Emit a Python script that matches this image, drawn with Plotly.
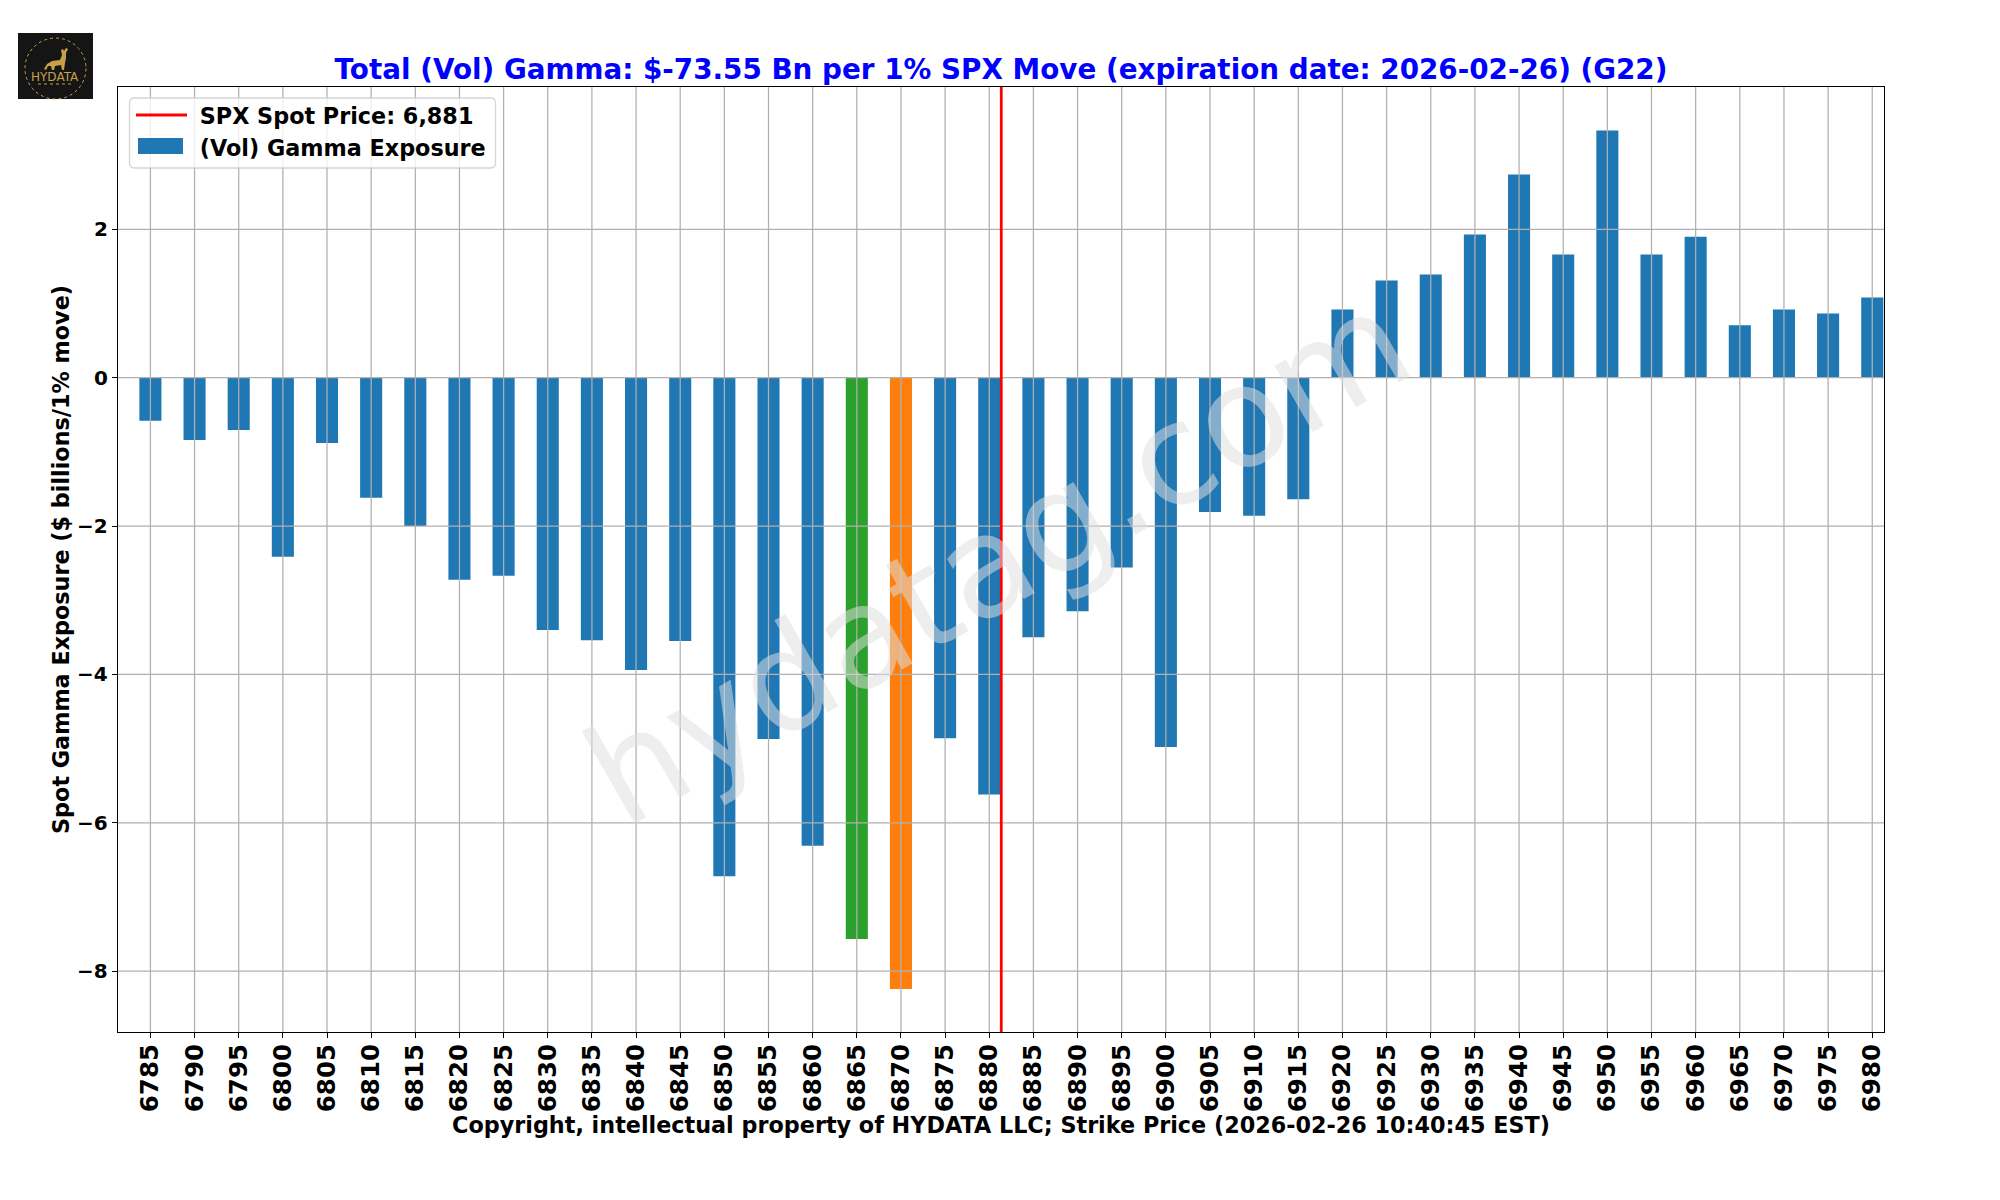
import plotly.graph_objs as go

strikes = [6785, 6790, 6795, 6800, 6805, 6810, 6815, 6820, 6825, 6830,
           6835, 6840, 6845, 6850, 6855, 6860, 6865, 6870, 6875, 6880,
           6885, 6890, 6895, 6900, 6905, 6910, 6915, 6920, 6925, 6930,
           6935, 6940, 6945, 6950, 6955, 6960, 6965, 6970, 6975, 6980]
gamma = [-0.58, -0.84, -0.705, -2.415, -0.88, -1.62, -2.0, -2.725, -2.67, -3.4,
         -3.54, -3.94, -3.55, -6.72, -4.87, -6.31, -7.565, -8.24, -4.86, -5.62,
         -3.5, -3.15, -2.56, -4.98, -1.81, -1.86, -1.64, 0.92, 1.31, 1.39,
         1.93, 2.74, 1.66, 3.33, 1.66, 1.9, 0.705, 0.92, 0.866, 1.08]
y_ticks = [-8, -6, -4, -2, 0, 2]
spot_x = 6881.36

BLUE = '#1f77b4'
GREEN = '#2ca02c'
ORANGE = '#ff7f0e'
GOLD = '#c9a04a'
FONT = 'DejaVu Sans'

x_range = [6781.33, 6981.33]
y_range = [-8.82, 3.918]

# plot box in pixels, matches the 2000x1200 page
L, R, T, B = 118, 1884, 87, 1032


def px(x):
    return (x - L) / (R - L)


def py(y):
    return (B - y) / (B - T)


# highlight min gamma strike and the next one
bar_colors = [GREEN if s == 6865 else ORANGE if s == 6870 else BLUE for s in strikes]

# grid goes on top of the bars in the original, so it is a trace here
grid_x, grid_y = [], []
for s in strikes:
    grid_x += [s, s, None]
    grid_y += [y_range[0], y_range[1], None]
for t in y_ticks:
    grid_x += [x_range[0], x_range[1], None]
    grid_y += [t, t, None]

bars = go.Bar(x=strikes, y=gamma, width=2.5, name='\u00a0(Vol) Gamma Exposure',
              marker=dict(color=bar_colors, line=dict(width=0)), legendrank=2)
grid = go.Scatter(x=grid_x, y=grid_y, mode='lines', showlegend=False, hoverinfo='skip',
                  line=dict(color='#b0b0b0', width=1.25))
spot = go.Scatter(x=[spot_x, spot_x], y=y_range, mode='lines', name='\u00a0SPX Spot Price: 6,881',
                  line=dict(color='#ff0000', width=2.8), legendrank=1)

# legend frame with round corners, plotly legends only have square ones
fx0, fx1, fy0, fy1, rad = 129.5, 495.5, 98, 168, 5
frame = (f'M {px(fx0 + rad)},{py(fy0)} L {px(fx1 - rad)},{py(fy0)} '
         f'Q {px(fx1)},{py(fy0)} {px(fx1)},{py(fy0 + rad)} L {px(fx1)},{py(fy1 - rad)} '
         f'Q {px(fx1)},{py(fy1)} {px(fx1 - rad)},{py(fy1)} L {px(fx0 + rad)},{py(fy1)} '
         f'Q {px(fx0)},{py(fy1)} {px(fx0)},{py(fy1 - rad)} L {px(fx0)},{py(fy0 + rad)} '
         f'Q {px(fx0)},{py(fy0)} {px(fx0 + rad)},{py(fy0)} Z')

layout = go.Layout(
    width=2000, height=1200, autosize=False,
    margin=dict(l=L, r=2000 - R, t=T, b=1200 - B, pad=0),
    plot_bgcolor='white', paper_bgcolor='white',
    font=dict(family=FONT, color='black', weight=700),
    title=dict(text='Total (Vol) Gamma: $-73.55 Bn per 1% SPX Move (expiration date: 2026-02-26) (G22)',
               font=dict(family=FONT, size=27.8, color='#0000ff', weight=700),
               x=0.5, xref='paper', xanchor='center', y=1, yref='paper', yanchor='bottom',
               pad=dict(b=8)),
    xaxis=dict(range=x_range, tickmode='array', tickvals=strikes, ticktext=[str(s) for s in strikes],
               tickangle=-90, tickfont=dict(family=FONT, size=24.5, weight=700),
               ticks='outside', ticklen=5, tickwidth=1.1, tickcolor='black', ticklabelstandoff=-4,
               showgrid=False, zeroline=False, showline=True, mirror=True,
               linecolor='black', linewidth=1.4,
               title=dict(text='Copyright, intellectual property of HYDATA LLC; Strike Price (2026-02-26 10:40:45 EST)',
                          font=dict(family=FONT, size=22.3, weight=700), standoff=3)),
    yaxis=dict(range=y_range, tickmode='array', tickvals=y_ticks,
               tickfont=dict(family=FONT, size=20, weight=700),
               ticks='outside', ticklen=5, tickwidth=1.1, tickcolor='black',
               showgrid=False, zeroline=False, showline=True, mirror=True,
               linecolor='black', linewidth=1.4,
               title=dict(text='Spot Gamma Exposure ($ billions/1% move)',
                          font=dict(family=FONT, size=22.3, weight=700), standoff=1)),
    legend=dict(x=px(131), y=py(94), xanchor='left', yanchor='top',
                bgcolor='rgba(0,0,0,0)', borderwidth=0,
                font=dict(family=FONT, size=22.3, weight=700), itemwidth=51,
                traceorder='normal'),
    annotations=[
        # watermark
        dict(text='hydatag.com', xref='paper', yref='paper', x=px(997), y=py(558),
             xanchor='center', yanchor='middle', textangle=-30, showarrow=False,
             font=dict(family=FONT, size=140, color='rgba(223,223,223,0.53)', weight=400)),
        # logo text
        dict(text='HYDATA', xref='paper', yref='paper', x=px(55), y=py(77),
             xanchor='center', yanchor='middle', showarrow=False,
             font=dict(family=FONT, size=12, color=GOLD, weight=400)),
    ],
    shapes=[
        dict(type='rect', xref='paper', yref='paper', x0=px(18), x1=px(93), y0=py(33), y1=py(99),
             fillcolor='#151515', line=dict(width=0)),
        dict(type='circle', xref='paper', yref='paper', x0=px(25), x1=px(86), y0=py(38), y1=py(99),
             line=dict(color=GOLD, width=1, dash='dot')),
        dict(type='path', xref='paper', yref='paper', fillcolor=GOLD, line=dict(width=0),
             path='M ' + ' L '.join(f'{px(a)},{py(b)}' for a, b in [
                 (44, 69), (47, 64), (52, 61), (60, 60), (62, 55), (61, 50), (63, 49), (64, 51),
                 (66, 48), (68, 49), (66, 53), (66, 58), (65, 63), (64, 70), (62, 70), (61, 65),
                 (55, 66), (54, 70), (52, 70), (51, 66), (48, 66), (46, 70)]) + ' Z'),
        dict(type='line', xref='paper', yref='paper', x0=px(38), x1=px(72), y0=py(84), y1=py(84),
             line=dict(color='#8a7038', width=1.5, dash='dot')),
        # legend frame and the wide bar swatch
        dict(type='path', xref='paper', yref='paper', path=frame, layer='above',
             fillcolor='rgba(255,255,255,0.8)', line=dict(color='rgba(204,204,204,0.8)', width=1.3)),
        dict(type='rect', xref='paper', yref='paper', x0=px(138), x1=px(183), y0=py(138), y1=py(154),
             layer='above', fillcolor=BLUE, line=dict(width=0)),
    ],
)

fig = go.Figure(data=[bars, grid, spot], layout=layout)
fig.write_html("out.html", config=dict(displayModeBar=False),
               post_script="document.body.style.margin='0';")
